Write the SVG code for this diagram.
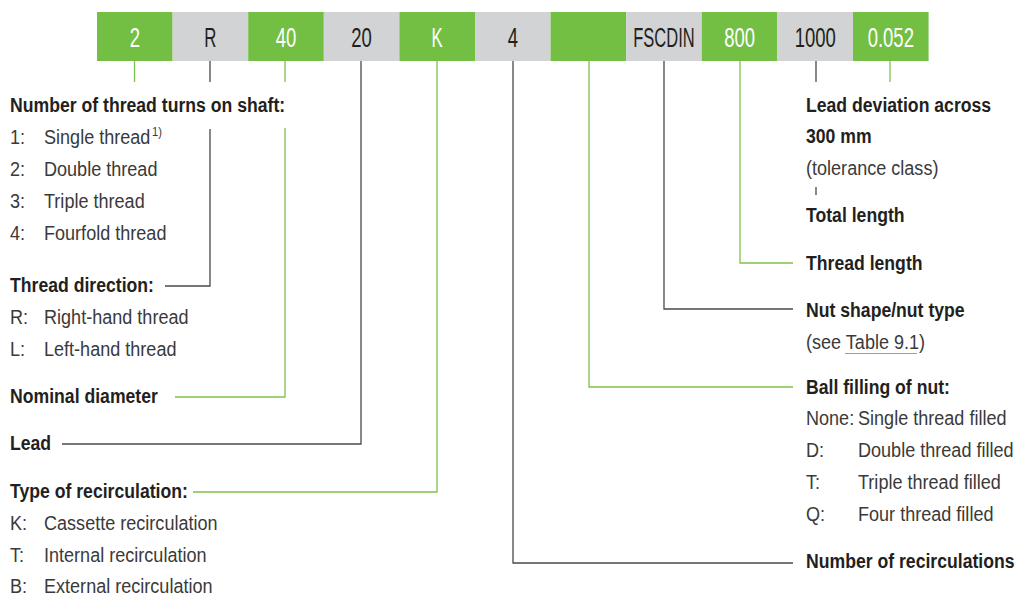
<svg xmlns="http://www.w3.org/2000/svg" width="1020" height="596" viewBox="0 0 1020 596">
<style>
text{font-family:"Liberation Sans",Arial,sans-serif}
.bx{font-size:28px;text-anchor:middle}
.g{fill:#72BF44}
.s{fill:#D1D3D4}
.w{fill:#ffffff}
.k{fill:#231F20}
.h{font-size:21px;font-weight:bold;fill:#231F20}
.t{font-size:21px;fill:#3A3A3A}
.lg{stroke:#7DC24B;stroke-width:1.3;fill:none}
.ld{stroke:#4A4A4A;stroke-width:1.3;fill:none}
</style>
<g id="codes">
<g id="n2"><rect class="g" x="97" y="12" width="75.6" height="49"/><text class="bx w" transform="translate(134.8 47) scale(.66 1)">2</text></g>
<g id="nR"><rect class="s" x="172.6" y="12" width="75.6" height="49"/><text class="bx k" transform="translate(210.4 47) scale(.6 1)">R</text></g>
<g id="n40"><rect class="g" x="248.2" y="12" width="75.6" height="49"/><text class="bx w" transform="translate(286 47) scale(.66 1)">40</text></g>
<g id="n20"><rect class="s" x="323.8" y="12" width="75.6" height="49"/><text class="bx k" transform="translate(361.6 47) scale(.66 1)">20</text></g>
<g id="nK"><rect class="g" x="399.4" y="12" width="75.6" height="49"/><text class="bx w" transform="translate(437.2 47) scale(.6 1)">K</text></g>
<g id="n4"><rect class="s" x="475" y="12" width="75.6" height="49"/><text class="bx k" transform="translate(512.8 47) scale(.66 1)">4</text></g>
<g id="nBlank"><rect class="g" x="550.6" y="12" width="75.6" height="49"/></g>
<g id="nFSCDIN"><rect class="s" x="626.2" y="12" width="75.6" height="49"/><text class="bx k" transform="translate(664 47) scale(.59 1)">FSCDIN</text></g>
<g id="n800"><rect class="g" x="701.8" y="12" width="75.6" height="49"/><text class="bx w" transform="translate(739.6 47) scale(.66 1)">800</text></g>
<g id="n1000"><rect class="s" x="777.4" y="12" width="75.6" height="49"/><text class="bx k" transform="translate(815.2 47) scale(.66 1)">1000</text></g>
<g id="n0052"><rect class="g" x="853" y="12" width="75.6" height="49"/><text class="bx w" transform="translate(890.8 47) scale(.66 1)">0.052</text></g>
</g>
<g id="connectors">
<path class="lg" d="M134.5 61V82"/>
<path class="ld" d="M210 61V82M210 129V286H165"/>
<path class="lg" d="M285 61V82M285 128V397H175"/>
<path class="ld" d="M361 61V444H62"/>
<path class="lg" d="M437 61V492H193"/>
<path class="ld" d="M513 61V563H793"/>
<path class="lg" d="M589 61V387H793"/>
<path class="ld" d="M664 61V309H793"/>
<path class="lg" d="M740 61V263H793"/>
<path class="ld" d="M816 61V82M816 187V195"/>
<path class="lg" d="M890 61V82"/>
</g>
<g id="turns">
<text class="h" transform="translate(10 112) scale(.84 1)">Number of thread turns on shaft:</text>
<text class="t" transform="translate(10 144) scale(.86 1)">1:</text><text class="t" transform="translate(44 144) scale(.86 1)">Single thread<tspan font-size="13" dx="2" dy="-8">1)</tspan></text>
<text class="t" transform="translate(10 176) scale(.86 1)">2:</text><text class="t" transform="translate(44 176) scale(.86 1)">Double thread</text>
<text class="t" transform="translate(10 208) scale(.86 1)">3:</text><text class="t" transform="translate(44 208) scale(.86 1)">Triple thread</text>
<text class="t" transform="translate(10 240) scale(.86 1)">4:</text><text class="t" transform="translate(44 240) scale(.86 1)">Fourfold thread</text>
</g>
<g id="direction">
<text class="h" transform="translate(10 292) scale(.84 1)">Thread direction:</text>
<text class="t" transform="translate(10 324) scale(.86 1)">R:</text><text class="t" transform="translate(44 324) scale(.86 1)">Right-hand thread</text>
<text class="t" transform="translate(10 356) scale(.86 1)">L:</text><text class="t" transform="translate(44 356) scale(.86 1)">Left-hand thread</text>
</g>
<g id="nominal"><text class="h" transform="translate(10 403) scale(.84 1)">Nominal diameter</text></g>
<g id="lead"><text class="h" transform="translate(10 450) scale(.84 1)">Lead</text></g>
<g id="recirc">
<text class="h" transform="translate(10 498) scale(.84 1)">Type of recirculation:</text>
<text class="t" transform="translate(10 530) scale(.86 1)">K:</text><text class="t" transform="translate(44 530) scale(.86 1)">Cassette recirculation</text>
<text class="t" transform="translate(10 562) scale(.86 1)">T:</text><text class="t" transform="translate(44 562) scale(.86 1)">Internal recirculation</text>
<text class="t" transform="translate(10 593) scale(.86 1)">B:</text><text class="t" transform="translate(44 593) scale(.86 1)">External recirculation</text>
</g>
<g id="deviation">
<text class="h" transform="translate(806 112) scale(.84 1)">Lead deviation across</text>
<text class="h" transform="translate(806 143) scale(.84 1)">300 mm</text>
<text class="t" transform="translate(806 175) scale(.86 1)">(tolerance class)</text>
</g>
<g id="total"><text class="h" transform="translate(806 222) scale(.84 1)">Total length</text></g>
<g id="threadlen"><text class="h" transform="translate(806 270) scale(.84 1)">Thread length</text></g>
<g id="nut">
<text class="h" transform="translate(806 317) scale(.84 1)">Nut shape/nut type</text>
<text class="t" transform="translate(806 349) scale(.86 1)">(see Table 9.1)</text>
<path d="M845 353.5H917" stroke="#7DC24B" stroke-width="1"/>
</g>
<g id="filling">
<text class="h" transform="translate(806 394) scale(.84 1)">Ball filling of nut:</text>
<text class="t" transform="translate(806 425) scale(.86 1)">None:</text><text class="t" transform="translate(858 425) scale(.86 1)">Single thread filled</text>
<text class="t" transform="translate(806 457) scale(.86 1)">D:</text><text class="t" transform="translate(858 457) scale(.86 1)">Double thread filled</text>
<text class="t" transform="translate(806 489) scale(.86 1)">T:</text><text class="t" transform="translate(858 489) scale(.86 1)">Triple thread filled</text>
<text class="t" transform="translate(806 521) scale(.86 1)">Q:</text><text class="t" transform="translate(858 521) scale(.86 1)">Four thread filled</text>
</g>
<g id="numrecirc"><text class="h" transform="translate(806 568) scale(.84 1)">Number of recirculations</text></g>
</svg>
